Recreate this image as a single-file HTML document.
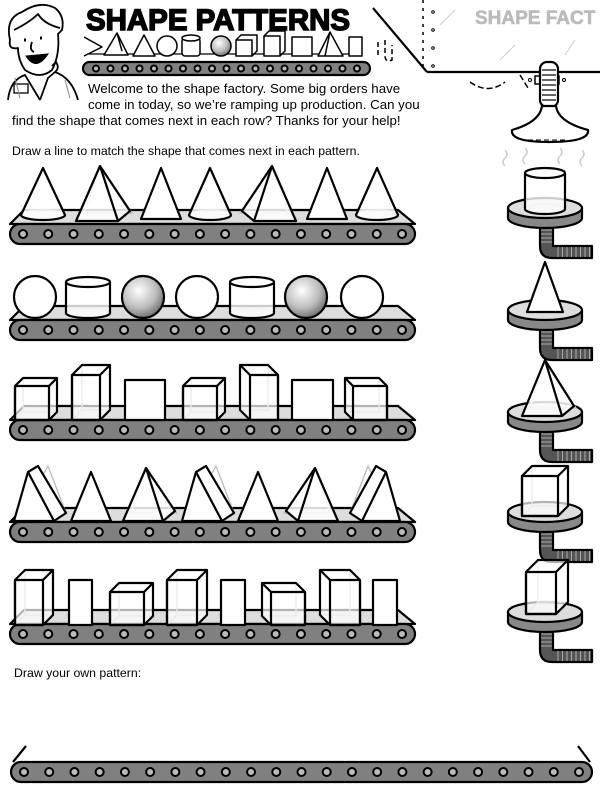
<!DOCTYPE html>
<html><head><meta charset="utf-8">
<style>
html,body{margin:0;padding:0;background:#fff;width:600px;height:793px;overflow:hidden}
svg{display:block}
text{font-family:"Liberation Sans",sans-serif}
</style></head>
<body>
<svg id="s" width="600" height="793" viewBox="0 0 600 793" xmlns="http://www.w3.org/2000/svg">
<defs>
<radialGradient id="sph" cx="0.4" cy="0.35" r="0.7">
<stop offset="0" stop-color="#fff"/><stop offset="0.6" stop-color="#bbb"/><stop offset="1" stop-color="#666"/>
</radialGradient>
</defs>
<text x="86" y="30" font-family="Liberation Serif" font-weight="bold" font-size="30" stroke="#000" stroke-width="1.5" textLength="264" lengthAdjust="spacingAndGlyphs">SHAPE PATTERNS</text>
<text x="475" y="24" font-family="Liberation Serif" font-weight="bold" font-size="19" fill="#bbb" stroke="#bbb" stroke-width="0.6">SHAPE FACT</text>
<text x="88" y="93" font-size="13.3">Welcome to the shape factory. Some big orders have</text>
<text x="88" y="109" font-size="13.3">come in today, so we’re ramping up production. Can you</text>
<text x="12" y="125" font-size="13.3">find the shape that comes next in each row? Thanks for your help!</text>
<text x="12" y="155" font-size="12.3">Draw a line to match the shape that comes next in each pattern.</text>
<text x="14" y="677" font-size="12.3">Draw your own pattern:</text>
<g id="g"></g>
</svg>
<script>
var o='';
var S='stroke="#000" stroke-width="2.2" stroke-linejoin="round"';
var F='stroke="#bbb" stroke-width="1.3" fill="none"';
function belt(B,x1,x2,n,surf,h,hr){
 h=h||20;hr=hr||4;
 if(surf) o+='<polygon points="'+x1+','+B+' '+(x1+14)+','+(B-14)+' '+(x2-17)+','+(B-14)+' '+x2+','+B+'" fill="#ddd" '+S+'/>';
 o+='<rect x="'+x1+'" y="'+B+'" width="'+(x2-x1)+'" height="'+h+'" rx="'+(h/2)+'" fill="#808080" '+S+'/>';
 var sp=(x2-x1-26)/(n-1);
 for(var i=0;i<n;i++)o+='<circle cx="'+(x1+13+i*sp)+'" cy="'+(B+h/2)+'" r="'+hr+'" fill="#bbb" stroke="#000" stroke-width="2"/>';
}
function cone(cx,top,bot,w){
 var r=w/2;
 o+='<ellipse cx="'+cx+'" cy="'+(bot-5)+'" rx="'+r+'" ry="5" '+F+'/>';
 o+='<path d="M'+(cx-r)+','+(bot-5)+' L'+cx+','+top+' L'+(cx+r)+','+(bot-5)+' A'+r+',5 0 0 1 '+(cx-r)+','+(bot-5)+'Z" fill="#fff" fill-opacity="0.85" '+S+'/>';
}
function tri(cx,top,bot,w){o+='<polygon points="'+(cx-w/2)+','+bot+' '+cx+','+top+' '+(cx+w/2)+','+bot+'" fill="#fff" '+S+'/>';}
function flipwrap(cx,flip,fn){
 if(flip)o+='<g transform="translate('+(2*cx)+',0) scale(-1,1)">';
 fn();
 if(flip)o+='</g>';
}
function pyr(cx,top,bot,w,flip){
 flipwrap(cx,flip,function(){
 var a=w/2;
 o+='<polygon points="'+(cx-a+8)+','+(bot-8)+' '+(cx+a+8)+','+(bot-8)+' '+cx+','+top+'" '+F+'/>';
 o+='<polygon points="'+(cx-a)+','+bot+' '+(cx+a-6)+','+bot+' '+(cx+a+6)+','+(bot-10)+' '+cx+','+top+'" fill="#fff" fill-opacity="0.85" '+S+'/>';
 o+='<line x1="'+cx+'" y1="'+top+'" x2="'+(cx+a-6)+'" y2="'+bot+'" '+S+'/>';
 });
}
function prism(x,top,bot,w,flip){
 flipwrap(x+w/2,flip,function(){
 o+='<polygon points="'+(x+8)+','+(bot-8)+' '+(x+w)+','+(bot-8)+' '+(x+w-18)+','+(top)+'" '+F+'/>';
 o+='<polygon points="'+x+','+bot+' '+(x+14)+','+(top+6)+' '+(x+24)+','+top+' '+(x+w)+','+(bot-8)+' '+(x+w-12)+','+bot+'" fill="#fff" '+S+'/>';
 o+='<polyline points="'+(x+14)+','+(top+6)+' '+(x+w-12)+','+bot+'" fill="none" '+S+'/>';
 });
}
function circ(cx,cy,r,fill){o+='<circle cx="'+cx+'" cy="'+cy+'" r="'+r+'" fill="'+fill+'" '+S+'/>';}
function cyl(cx,top,bot,w){
 var r=w/2;
 o+='<ellipse cx="'+cx+'" cy="'+(bot-5)+'" rx="'+r+'" ry="5" '+F+'/>';
 o+='<path d="M'+(cx-r)+','+(top+5)+' L'+(cx-r)+','+(bot-5)+' A'+r+',5 0 0 0 '+(cx+r)+','+(bot-5)+' L'+(cx+r)+','+(top+5)+'" fill="#fff" fill-opacity="0.8" '+S+'/>';
 o+='<ellipse cx="'+cx+'" cy="'+(top+5)+'" rx="'+r+'" ry="5" fill="#fff" '+S+'/>';
}
function box(x,top,bot,w,d,left){
 var s=left?-1:1, fx=left?x+d:x, bx=fx+d*s;
 o+='<rect x="'+bx+'" y="'+top+'" width="'+w+'" height="'+(bot-top-d)+'" '+F+'/>';
 o+='<line x1="'+fx+'" y1="'+bot+'" x2="'+bx+'" y2="'+(bot-d)+'" '+F+'/>';
 if(!left){
 o+='<polygon points="'+fx+','+(top+d)+' '+bx+','+top+' '+(bx+w)+','+top+' '+(bx+w)+','+(bot-d)+' '+(fx+w)+','+bot+' '+fx+','+bot+'" fill="#fff" fill-opacity="0.7" '+S+'/>';
 o+='<line x1="'+(fx+w)+'" y1="'+(top+d)+'" x2="'+(bx+w)+'" y2="'+top+'" '+S+'/>';
 } else {
 o+='<polygon points="'+bx+','+top+' '+(bx+w)+','+top+' '+(fx+w)+','+(top+d)+' '+(fx+w)+','+bot+' '+fx+','+bot+' '+bx+','+(bot-d)+'" fill="#fff" fill-opacity="0.7" '+S+'/>';
 o+='<line x1="'+fx+'" y1="'+(top+d)+'" x2="'+bx+'" y2="'+top+'" '+S+'/>';
 }
 o+='<rect x="'+fx+'" y="'+(top+d)+'" width="'+w+'" height="'+(bot-top-d)+'" fill="none" '+S+'/>';
}
function rect(x,top,bot,w){o+='<rect x="'+x+'" y="'+top+'" width="'+w+'" height="'+(bot-top)+'" fill="#fff" '+S+'/>';}

belt(224,10,415,16,true);
cone(43,168,220,44);pyr(100,166,221,48,false);tri(161,168,219,40);cone(210,168,220,42);pyr(272,166,221,48,true);tri(327,168,219,40);cone(377,168,220,42);
belt(320,10,415,16,true);
circ(35,297,21,'#fff');cyl(88,277,318,44);circ(143,297,21,'url(#sph)');circ(197,297,21,'#fff');cyl(252,277,318,44);circ(306,297,21,'url(#sph)');circ(362,297,21,'#fff');
belt(420,10,415,16,true);
box(15,378,420,34,8,false);box(72,365,420,28,10,false);rect(125,380,420,40);box(183,378,420,34,8,false);box(240,365,420,28,10,true);rect(292,380,420,41);box(345,378,420,34,8,true);
belt(522,10,415,16,true);
prism(14,466,521,52,false);tri(91,472,521,40);pyr(146,468,521,46,false);prism(182,466,521,52,false);tri(258,472,521,40);pyr(315,468,521,46,true);prism(350,466,521,50,true);
belt(624,10,415,16,true);
box(15,570,625,28,10,false);rect(69,580,625,23);box(110,583,625,34,9,false);box(167,570,625,30,10,false);rect(221,580,625,24);box(262,583,625,34,9,true);box(320,570,625,30,10,true);rect(373,580,625,24);
belt(762,11,592,23,false);
o+='<line x1="13" y1="762" x2="26" y2="746" '+S+'/><line x1="590" y1="762" x2="578" y2="746" '+S+'/>';

function ped(cy){
 var cx=545;
 o+='<path d="M540,'+(cy+18)+' L540,'+(cy+38)+' Q540,'+(cy+50)+' 552,'+(cy+50)+' L592,'+(cy+50)+' L592,'+(cy+38)+' L553,'+(cy+38)+' L553,'+(cy+18)+'Z" fill="#555" '+S+'/>';
 for(var i=0;i<8;i++)o+='<line x1="'+(558+i*4.5)+'" y1="'+(cy+39)+'" x2="'+(558+i*4.5)+'" y2="'+(cy+49)+'" stroke="#aaa" stroke-width="1"/>';
 for(var j=0;j<4;j++)o+='<line x1="541" y1="'+(cy+22+j*4)+'" x2="552" y2="'+(cy+22+j*4)+'" stroke="#aaa" stroke-width="1"/>';
 o+='<path d="M'+(cx-37)+','+cy+' L'+(cx-37)+','+(cy+10)+' A37,10 0 0 0 '+(cx+37)+','+(cy+10)+' L'+(cx+37)+','+cy+'Z" fill="#888" '+S+'/>';
 o+='<ellipse cx="'+cx+'" cy="'+cy+'" rx="37" ry="10" fill="#ddd" '+S+'/>';
}
ped(208);cyl(545,168,214,40);
ped(310);tri(545,262,312,36);
ped(412);pyr(545,360,416,46,false);
ped(512);box(522,466,516,36,10,false);
ped(612);box(526,560,614,30,12,false);

belt(62,83,370,19,false,13,3);
var s1=S.replace('2.2','1.5');
o+='<line x1="86" y1="54" x2="362" y2="54" stroke="#000" stroke-width="1.2"/>';
o+='<polyline points="84,37 102,47 84,56" fill="#fff" '+s1+'/>';
o+='<polygon points="104,55 117,33 128,55" fill="#fff" '+s1+'/><line x1="117" y1="33" x2="122" y2="51" '+s1+'/>';
o+='<polygon points="133,56 144,35 155,56" fill="#fff" '+s1+'/>';
o+='<circle cx="167" cy="46" r="10" fill="#fff" '+s1+'/>';
o+='<rect x="182" y="38" width="18" height="18" rx="3" fill="#fff" '+s1+'/><ellipse cx="191" cy="38" rx="9" ry="3" fill="#fff" '+s1+'/>';
o+='<circle cx="221" cy="46" r="10" fill="url(#sph)" '+s1+'/>';
o+='<rect x="236" y="40" width="16" height="16" fill="#fff" '+s1+'/><polyline points="236,40 241,35 257,35 257,51 252,56" fill="none" '+s1+'/>';
o+='<rect x="264" y="36" width="16" height="20" fill="#fff" '+s1+'/><polyline points="264,36 269,31 285,31 285,51 280,56" fill="none" '+s1+'/>';
o+='<rect x="292" y="37" width="20" height="19" fill="#fff" '+s1+'/>';
o+='<polygon points="318,56 330,32 343,56" fill="#fff" '+s1+'/><line x1="330" y1="32" x2="325" y2="56" '+s1+'/>';
o+='<rect x="349" y="37" width="13" height="19" fill="#fff" '+s1+'/>';

o+='<line x1="373" y1="8" x2="427" y2="72" '+S+'/><line x1="427" y1="72" x2="600" y2="72" '+S+'/>';
o+='<line x1="423" y1="0" x2="423" y2="70" stroke="#000" stroke-width="1.5" stroke-dasharray="3,5"/>';
o+='<path d="M378,55 L378,40 M385,40 L385,55 Q385,63 392,60 L392,45" fill="none" stroke="#000" stroke-width="1.5" stroke-dasharray="5,3"/>';
o+='<path d="M470,82 Q488,95 505,82 M520,75 L528,88" fill="none" stroke="#000" stroke-width="1.5" stroke-dasharray="6,3"/>';
for(var q=0;q<4;q++)o+='<circle cx="433" cy="'+(12+q*18)+'" r="1.3" fill="none" stroke="#000"/>';
o+='<line x1="440" y1="25" x2="455" y2="10" stroke="#ccc"/><line x1="500" y1="60" x2="515" y2="45" stroke="#ccc"/><line x1="565" y1="55" x2="575" y2="40" stroke="#ccc"/>';
o+='<rect x="535" y="76" width="24" height="8" fill="#fff" stroke="#000" stroke-width="1.5"/><circle cx="530" cy="80" r="1.5" fill="none" stroke="#000"/><circle cx="564" cy="80" r="1.5" fill="none" stroke="#000"/>';
o+='<rect x="540" y="62" width="18" height="45" rx="7" fill="#fff" '+S+'/>';
for(var r=0;r<7;r++)o+='<line x1="542" y1="'+(70+r*5)+'" x2="556" y2="'+(70+r*5)+'" stroke="#000" stroke-width="1.2"/>';
o+='<path d="M542,106 Q540,122 512,130 Q510,142 549,142 Q590,142 588,130 Q558,122 556,106Z" fill="#fff" '+S+'/>';
o+='<path d="M528,140 L566,140" stroke="#000" stroke-dasharray="5,3"/>';
o+='<path d="M505,150 q4,4 0,8 q-4,4 0,8 M525,148 q4,4 0,8 q-4,4 0,8 M560,148 q4,4 0,8 q-4,4 0,8 M582,150 q4,4 0,8 q-4,4 0,8" fill="none" stroke="#ccc" stroke-width="1.5"/>';

var c='stroke="#000" stroke-width="1.8" fill="none" stroke-linejoin="round"';
o+='<path d="M10,40 Q5,18 22,12 Q40,0 55,8 Q65,16 62,30 L58,34 Q60,55 52,70 Q40,80 25,70 Q18,60 18,48 Q8,50 10,40Z" fill="#fff" '+c+'/>';
o+='<path d="M14,30 Q30,22 38,14 Q44,24 60,28" '+c+'/>';
o+='<path d="M24,40 l2,0 M40,38 l2,0" stroke="#000" stroke-width="3"/><path d="M32,42 q-3,8 2,10" '+c+'/>';
o+='<path d="M26,56 Q36,72 48,54 Z" fill="#000" stroke="#000"/>';
o+='<path d="M8,100 Q10,80 25,75 L40,100 M55,72 Q72,78 78,100" '+c+'/>';
o+='<path d="M40,100 L48,78 L55,72 Q60,68 56,62 L52,66" '+c+'/>';
o+='<rect x="14" y="84" width="14" height="9" fill="#fff" stroke="#000" stroke-width="1.3"/>';
o+='<line x1="15" y1="78" x2="20" y2="98" stroke="#888"/><line x1="65" y1="80" x2="70" y2="98" stroke="#888"/>';
document.getElementById('g').innerHTML=o;
</script>
</body></html>
